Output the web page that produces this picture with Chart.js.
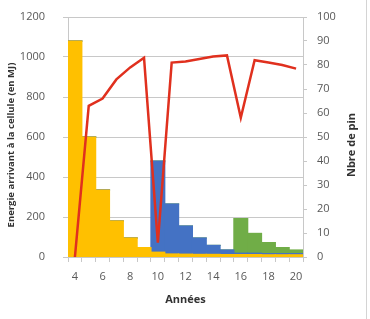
<!DOCTYPE html>
<html>
<head>
<meta charset="utf-8">
<style>
  html, body { margin: 0; padding: 0; background: #fff; }
  #wrap { position: relative; width: 370px; height: 319px; }
  #edge { position: absolute; left: 366px; top: 0; width: 1px; height: 319px; background: #d4d4d4; }
</style>
</head>
<body>
<div id="wrap">
  <canvas id="energyChart" width="370" height="319"></canvas>
  <div id="edge"></div>
</div>
<script src="https://cdn.jsdelivr.net/npm/chart.js"></script>
<script>
  // years on the x axis
  const years = ['4', '5', '6', '7', '8', '9', '10', '11', '12', '13', '14', '15', '16', '17', '18', '19', '20'];

  // energy per cohort (MJ), stacked
  const cohort1 = [1080, 600, 335, 180, 95, 47, 24, 15, 14, 13, 13, 12, 12, 12, 11, 11, 11];
  const cohort2 = [0, 0, 0, 0, 0, 0, 456, 250, 141, 82, 45, 23, 7, 7, 6, 6, 6];
  const cohort3 = [0, 0, 0, 0, 0, 0, 0, 0, 0, 0, 0, 0, 173, 99, 55, 30, 18];

  // number of pines (right axis)
  const pines = [0, 63, 66, 74, 79, 83, 6, 81, 81.5, 82.5, 83.5, 84, 58, 82, 81, 80, 78.5];

  const gridGrey = '#c8c8c8';
  const tickColor = '#595959';
  const titleColor = '#333';
  const fontFamily = "'Open Sans', sans-serif";
  const leftTitle = 'Energie arrivant à la cellule (en MJ)';
  const rightTitle = 'Nbre de pin';

  // both y titles read bottom-to-top, a bit below the plot middle
  const sideTitles = {
    id: 'sideTitles',
    afterDraw(chart) {
      const c = chart.ctx;
      const area = chart.chartArea;
      const midY = (area.top + area.bottom) / 2 + 8;
      const put = (text, x, size) => {
        c.save();
        c.translate(x, midY);
        c.rotate(-Math.PI / 2);
        c.font = 'bold ' + size + 'px ' + fontFamily;
        c.fillStyle = titleColor;
        c.textAlign = 'center';
        c.textBaseline = 'middle';
        c.fillText(text, 0, 0);
        c.restore();
      };
      put(leftTitle, chart.scales.y.left + 11, 9.5);
      put(rightTitle, chart.scales.y1.right - 18, 11);
    }
  };

  // fixed axis widths; keep tick padding from pushing the plot down
  const fixWidth = (w) => (s) => {
    s.width = w;
    s.paddingTop = 7;
    s.paddingBottom = 7;
  };

  const ctx = document.getElementById('energyChart').getContext('2d');
  new Chart(ctx, {
    type: 'bar',
    data: {
      labels: years,
      datasets: [
        {
          type: 'line',
          label: rightTitle,
          data: pines,
          yAxisID: 'y1',
          borderColor: '#e0301e',
          borderWidth: 2.5,
          pointRadius: 0,
          fill: false,
          tension: 0,
          order: 0
        },
        { label: 'c1', data: cohort1, backgroundColor: '#ffc000', yAxisID: 'y', order: 1 },
        { label: 'c2', data: cohort2, backgroundColor: '#4472c4', yAxisID: 'y', order: 1 },
        { label: 'c3', data: cohort3, backgroundColor: '#70ad47', yAxisID: 'y', order: 1 }
      ]
    },
    options: {
      responsive: false,
      animation: false,
      layout: { padding: { left: 0, right: 0, top: 17, bottom: 0 } },
      datasets: {
        bar: { barPercentage: 1, categoryPercentage: 1, borderWidth: 0, inflateAmount: 0.6 }
      },
      plugins: {
        legend: { display: false },
        tooltip: { enabled: false }
      },
      scales: {
        x: {
          stacked: true,
          afterFit: (s) => { s.height = 62; },
          grid: { drawOnChartArea: false, drawTicks: true, tickLength: 5, color: gridGrey },
          border: { color: gridGrey },
          ticks: {
            color: tickColor,
            font: { family: fontFamily, size: 11 },
            padding: 8,
            maxRotation: 0,
            autoSkip: false,
            callback: function (value) {
              const lab = this.getLabelForValue(value);
              return Number(lab) % 2 === 0 ? lab : '';
            }
          },
          title: {
            display: true,
            text: 'Années',
            color: titleColor,
            font: { family: fontFamily, size: 11, weight: 'bold' },
            padding: { top: 0, bottom: 13 }
          }
        },
        y: {
          stacked: true,
          position: 'left',
          min: 0,
          max: 1200,
          afterFit: fixWidth(68),
          ticks: {
            stepSize: 200,
            color: tickColor,
            font: { family: fontFamily, size: 11 },
            padding: 18,
            callback: (v) => String(v)
          },
          grid: { color: gridGrey, tickLength: 5 },
          border: { color: gridGrey }
        },
        y1: {
          position: 'right',
          stacked: false,
          min: 0,
          max: 100,
          afterFit: fixWidth(67),
          ticks: {
            stepSize: 10,
            color: tickColor,
            font: { family: fontFamily, size: 11 },
            padding: 10,
            callback: (v) => String(v)
          },
          grid: { drawOnChartArea: false, color: gridGrey, tickLength: 4 },
          border: { color: gridGrey }
        }
      }
    },
    plugins: [sideTitles]
  });
</script>
</body>
</html>
